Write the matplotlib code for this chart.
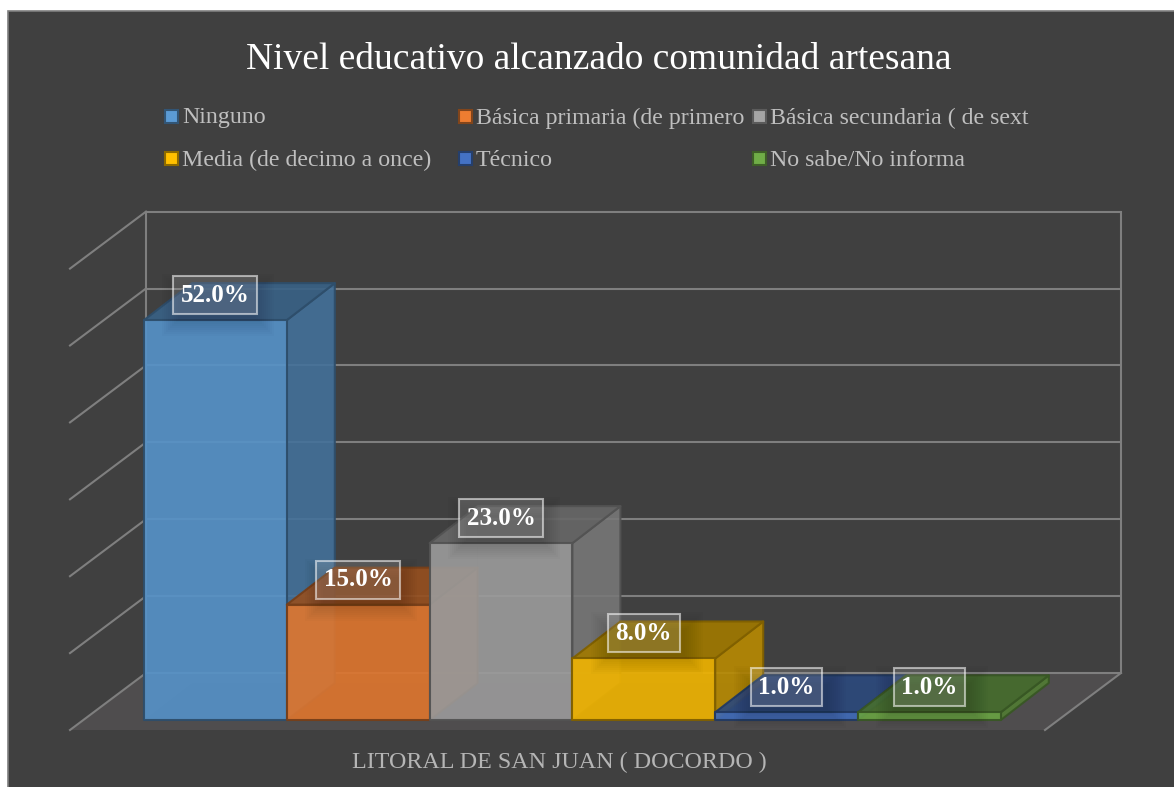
import matplotlib
matplotlib.use("Agg")
import matplotlib.pyplot as plt
from matplotlib.patches import Polygon, Rectangle

categories = ["Ninguno", "Básica primaria (de primero", "Básica secundaria ( de sext",
              "Media (de decimo a once)", "Técnico", "No sabe/No informa"]
values = [52.0, 15.0, 23.0, 8.0, 1.0, 1.0]
colors = ["#5b9bd5", "#ed7d31", "#a5a5a5", "#ffc000", "#4472c4", "#70ad47"]
grid_ticks = [0, 10, 20, 30, 40, 50, 60]
title = "Nivel educativo alcanzado comunidad artesana"
xlabel = "LITORAL DE SAN JUAN ( DOCORDO )"

# layout in figure pixels
W, H = 1174, 787
BG = "#404040"; GRID = "#7f7f7f"; FLOOR = "#4f4d4e"; LEG = "#bfbfbf"
BACK0, FRONT0, PX = 673.0, 720.0, 7.69
DX, DY = 48.0, -37.0
LEFT, BW = 144.0, 142.8
SERIF = "Liberation Serif"

plt.rcParams["font.family"] = SERIF
fig = plt.figure(figsize=(W / 100, H / 100), dpi=100, facecolor="white")
ax = fig.add_axes([0, 0, 1, 1])
ax.set_xlim(0, W); ax.set_ylim(H, 0); ax.axis("off")


def shade(hex_color, k):
    r, g, b = matplotlib.colors.to_rgb(hex_color)
    return (r * k, g * k, b * k)


ax.add_patch(Rectangle((8, 11), W, H, fc=BG, ec=GRID, lw=1.2, zorder=0))
ax.add_patch(Polygon([(70, 730), (146, BACK0), (1121, BACK0), (1045, 730)], fc=FLOOR, ec="none", zorder=1))

for t in grid_ticks:
    y = BACK0 - PX * t
    ax.plot([146, 1121], [y, y], color=GRID, lw=1.5, zorder=2, solid_capstyle="butt")
    ax.plot([146, 70], [y, y + 57], color=GRID, lw=1.5, zorder=2)
top_y = BACK0 - PX * grid_ticks[-1]
ax.plot([146, 146], [top_y, BACK0], color=GRID, lw=1.5, zorder=2)
ax.plot([1121, 1121], [top_y, BACK0], color=GRID, lw=1.5, zorder=2)
ax.plot([1121, 1045], [BACK0, 730], color=GRID, lw=1.5, zorder=2)

z = 3
for i, (v, c) in enumerate(zip(values, colors)):
    x0 = LEFT + i * BW
    x1 = x0 + BW
    yb = FRONT0
    yt = FRONT0 - PX * v
    edge = shade(c, 0.5)
    faces = [
        ([(x0, yb), (x1, yb), (x1 + DX, yb + DY), (x0 + DX, yb + DY)], shade(c, 0.8), 0.25),
        ([(x0 + DX, yb + DY), (x1 + DX, yb + DY), (x1 + DX, yt + DY), (x0 + DX, yt + DY)], shade(c, 0.9), 0.25),
        ([(x0, yb), (x0 + DX, yb + DY), (x0 + DX, yt + DY), (x0, yt)], shade(c, 0.95), 0.25),
        ([(x1, yb), (x1 + DX, yb + DY), (x1 + DX, yt + DY), (x1, yt)], shade(c, 0.72), 0.85),
        ([(x0, yt), (x1, yt), (x1 + DX, yt + DY), (x0 + DX, yt + DY)], shade(c, 0.62), 0.88),
        ([(x0, yb), (x1, yb), (x1, yt), (x0, yt)], shade(c, 0.94), 0.88),
    ]
    for pts, fc, a in faces[:3]:
        ax.add_patch(Polygon(pts, fc=(*fc, a), ec="none", zorder=z)); z += 1
    for pts, fc, a in faces[3:]:
        ax.add_patch(Polygon(pts, fc=(*fc, a), ec=(*edge, 0.95), lw=1.5, joinstyle="round", zorder=z)); z += 1

# soft shadows and value labels on top of all bars
for i, v in enumerate(values):
    cx = LEFT + (i + 0.5) * BW
    cy = FRONT0 - PX * v - 25
    for grow in range(0, 20, 2):
        ax.add_patch(Rectangle((cx - 38 - grow + 3, cy - 13 - grow + 10), 76 + 2 * grow, 26 + 2 * grow,
                               fc=(0, 0, 0, 0.016), ec="none", zorder=50))
    ax.text(cx, cy, f"{v:.1f}%", color="white", fontsize=18, fontweight="bold",
            ha="center", va="center", zorder=60,
            bbox=dict(boxstyle="square,pad=0.3", fc=(1, 1, 1, 0.14), ec=(1, 1, 1, 0.55), lw=1.5))

ax.text(598.5, 59.5, title, color="white", fontsize=27, ha="center", va="center", zorder=70)
ax.text(559, 762, xlabel, color="#b5b5b5", fontsize=17.3, ha="center", va="center", zorder=70)

leg_x = [165, 459, 753]
leg_y = [116, 158]
for i, (name, c) in enumerate(zip(categories, colors)):
    lx = leg_x[i % 3]
    ly = leg_y[i // 3]
    ax.add_patch(Rectangle((lx, ly - 6.5), 13, 13, fc=c, ec=shade(c, 0.55), lw=1.5, zorder=70))
    ax.text(lx + 17, ly + 2, name, color=LEG, fontsize=17.2, ha="left", va="center", zorder=70)

fig.savefig("out.png", dpi=100, facecolor="white")
